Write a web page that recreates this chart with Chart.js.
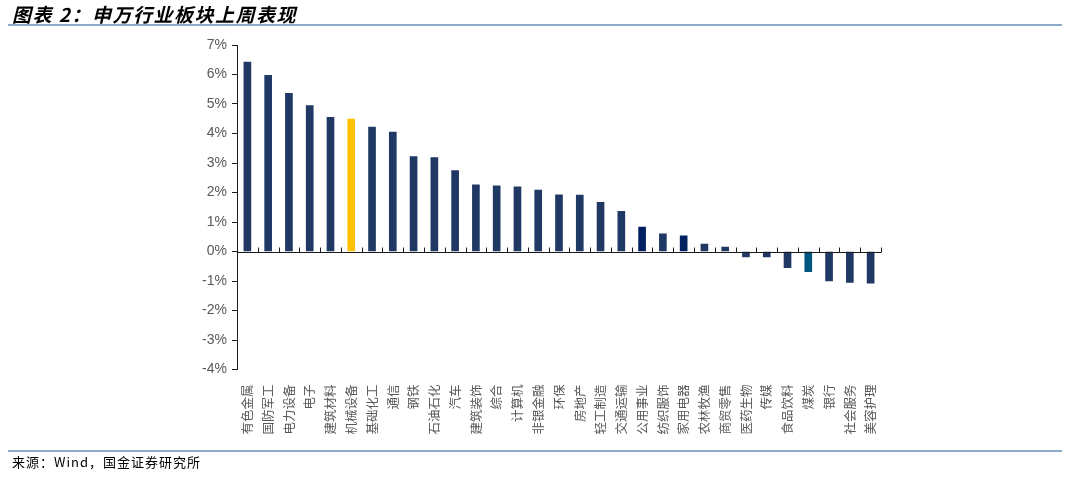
<!DOCTYPE html>
<html>
<head>
<meta charset="utf-8">
<script src="https://cdn.jsdelivr.net/npm/chart.js@4.4.1/dist/chart.umd.min.js"></script>
<style>
  html, body { margin: 0; padding: 0; background: #fff; width: 1080px; height: 477px; overflow: hidden; }
  #wrap { position: relative; width: 1080px; height: 477px; }
  #title { position: absolute; left: 12px; top: 0px; font: italic bold 19px "Noto Sans CJK SC"; letter-spacing: 1.5px; color: #000; white-space: nowrap; }
  .rule { position: absolute; left: 8px; width: 1054px; height: 0; border-top: 2px solid #8eaacb; }
  #source { position: absolute; left: 12px; top: 452px; font: 13px "Noto Sans CJK SC"; letter-spacing: 1px; color: #000; white-space: nowrap; }
  canvas { position: absolute; left: 0; top: 0; }
</style>
</head>
<body>
<div id="wrap">
  <canvas id="c" width="1080" height="477"></canvas>
  <div id="title">图表 2：申万行业板块上周表现</div>
  <div class="rule" style="top:24px"></div>
  <div class="rule" style="top:450px"></div>
  <div id="source">来源：Wind，国金证券研究所</div>
</div>
<script>
// 申万一级行业 上周涨跌幅 (%)
const categories = [
  '有色金属', '国防军工', '电力设备', '电子', '建筑材料', '机械设备', '基础化工', '通信',
  '钢铁', '石油石化', '汽车', '建筑装饰', '综合', '计算机', '非银金融', '环保',
  '房地产', '轻工制造', '交通运输', '公用事业', '纺织服饰', '家用电器', '农林牧渔', '商贸零售',
  '医药生物', '传媒', '食品饮料', '煤炭', '银行', '社会服务', '美容护理',
];
const weeklyReturn = [
  6.42, 5.97, 5.36, 4.95, 4.55, 4.49, 4.22, 4.05,
  3.22, 3.18, 2.74, 2.26, 2.23, 2.19, 2.08, 1.92,
  1.91, 1.67, 1.36, 0.83, 0.60, 0.53, 0.25, 0.15,
  -0.18, -0.18, -0.55, -0.68, -1.00, -1.05, -1.07,
];
const yTicks = [-4, -3, -2, -1, 0, 1, 2, 3, 4, 5, 6, 7];

// 색 지정: 기본 남색, 일부 업종만 강조
const BASE = '#203864';
const accent = { '机械设备': '#ffc000', '公用事业': '#002060', '家用电器': '#002060', '煤炭': '#00567e' };
const barColors = categories.map((c) => accent[c] || BASE);

// 0 축선 + 카테고리 경계 눈금(위쪽으로)
const zeroAxis = {
  id: 'zeroAxis',
  afterDatasetsDraw(chart) {
    const { ctx, scales: { x, y } } = chart;
    const y0 = Math.round(y.getPixelForValue(0)) + 0.5;
    ctx.save();
    ctx.strokeStyle = '#1a1a1a';
    ctx.lineWidth = 1;
    ctx.beginPath();
    ctx.moveTo(x.left, y0);
    ctx.lineTo(x.right, y0);
    for (let i = 1; i <= categories.length; i++) {
      const px = Math.round(x.getPixelForValue(i - 0.5)) + 0.5;
      ctx.moveTo(px, y0);
      ctx.lineTo(px, y0 - 5);
    }
    ctx.stroke();
    ctx.restore();
  },
};

new Chart(document.getElementById('c'), {
  type: 'bar',
  data: {
    labels: categories,
    datasets: [{ data: weeklyReturn, backgroundColor: barColors, barThickness: 7 }],
  },
  options: {
    responsive: false,
    animation: false,
    layout: { padding: { left: 180, right: 199, top: 45, bottom: 42.5 } },
    plugins: { legend: { display: false }, tooltip: { enabled: false } },
    scales: {
      x: {
        grid: { display: false },
        border: { display: false },
        ticks: {
          autoSkip: false, maxRotation: 90, minRotation: 90, padding: 7,
          color: '#595959', font: { family: 'Noto Sans CJK SC', size: 12.5 },
        },
        afterFit: (s) => { s.height = 65; },
      },
      y: {
        min: -4, max: 7,
        afterBuildTicks: (s) => { s.ticks = yTicks.map((v) => ({ value: v })); },
        grid: { drawOnChartArea: false, tickLength: 5, color: '#1a1a1a' },
        border: { color: '#1a1a1a' },
        ticks: {
          padding: 5, color: '#595959',
          font: { family: 'Liberation Sans', size: 14 },
          callback: (v) => `${v}%`,
        },
        afterFit: (s) => { s.width = 57; },
      },
    },
  },
  plugins: [zeroAxis],
});
</script>
</body>
</html>
